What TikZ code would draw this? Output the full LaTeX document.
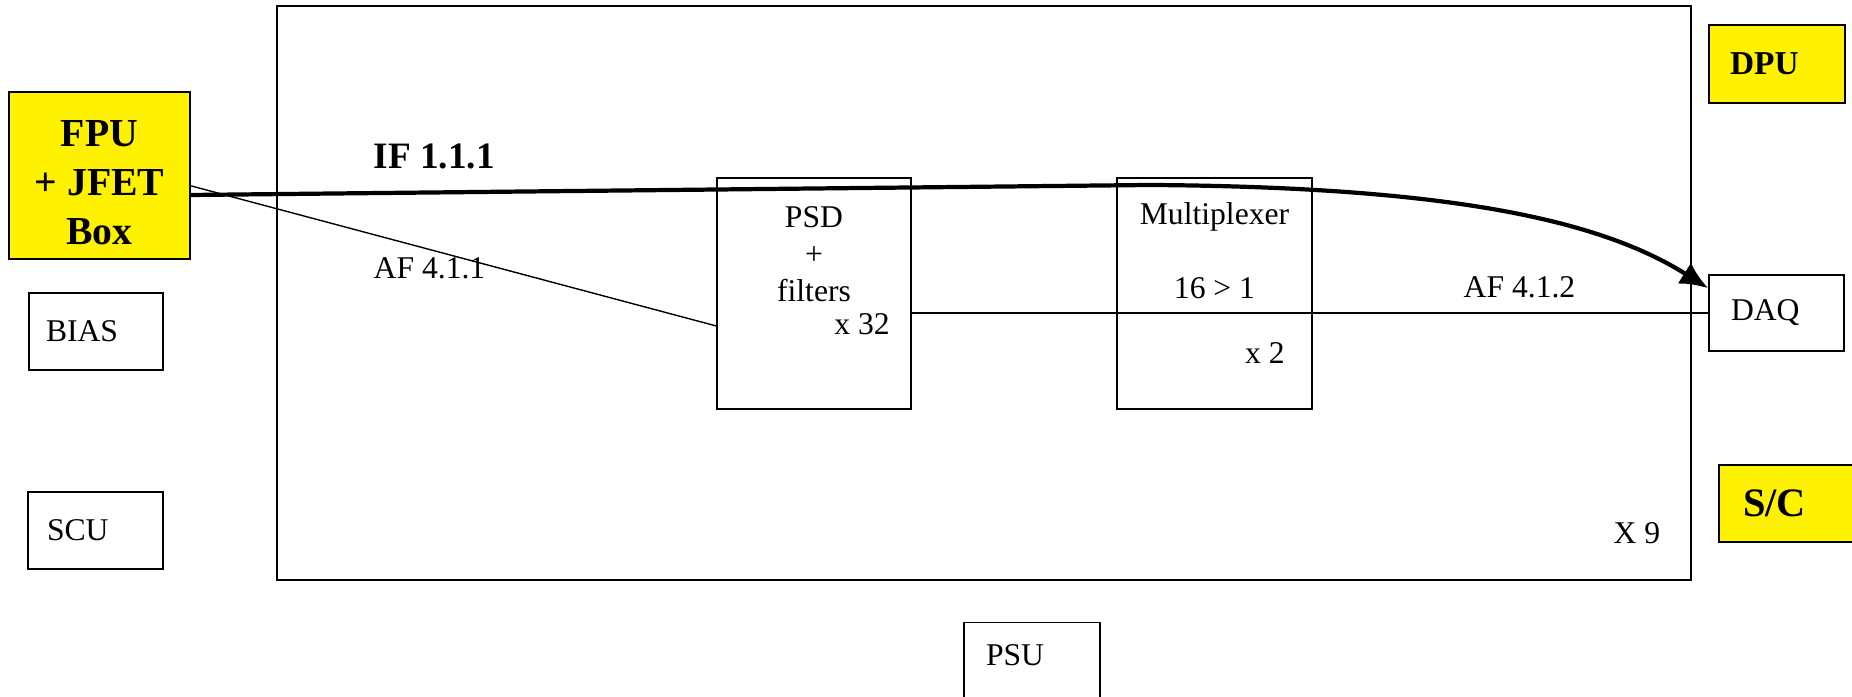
\documentclass[tikz,border=0pt]{standalone}
\usepackage{fontspec}
\setmainfont{Liberation Serif}
\usetikzlibrary{calc}
\usetikzlibrary{positioning}
\usetikzlibrary{arrows.meta}

\begin{document}
\begin{tikzpicture}[cap=round,>=latex,
        font=\fontsize{9}{10.5}\selectfont,
        unit/.style={draw, align=left, minimum height=0.77cm},
        hot/.style={unit, fill=yellow, line width=0.6pt},
        lbl/.style={inner sep=0pt}]

        \useasboundingbox (0,0) rectangle (18.52,-6.97);

        % the frame of one channel (there are nine of them)
        \node[draw, minimum width=14.14cm, minimum height=5.74cm] (frame) at (9.84,-2.93) {};
        \node[lbl, anchor=west] (nine) at (16.13,-5.33) {X 9};

        % units outside the frame
        \node[hot, align=center, line width=0.8pt, minimum width=1.81cm, minimum height=1.67cm,
              font=\fontsize{11.3}{14}\selectfont\bfseries] (fpu) at (0.995,-1.755) {\rule{0pt}{11.4pt}FPU\\+ JFET\\Box};
        \node[unit, text width=1.0cm, inner xsep=0.17cm] (bias) at (0.96,-3.315) {BIAS};
        \node[unit, text width=0.97cm, inner xsep=0.19cm] (scu) at (0.955,-5.305) {SCU};
        \node[unit, text width=0.92cm, inner xsep=0.22cm, inner ysep=0.1cm,
              text height=0.33cm, text depth=0.62cm, anchor=north] (psu) at (10.32,-6.22) {PSU};
        \node[hot, text width=0.94cm, inner xsep=0.21cm, minimum height=0.78cm,
              font=\fontsize{9.5}{11}\selectfont\bfseries] (dpu) at (17.77,-0.64) {DPU};
        \node[unit, text width=0.91cm, inner xsep=0.22cm, minimum height=0.76cm] (daq) at (17.765,-3.13) {DAQ};
        \node[hot, text width=0.97cm, inner xsep=0.24cm,
              font=\fontsize{11.5}{13}\selectfont\bfseries] (sc) at (17.915,-5.035) {S/C};

        % the electronics inside the frame
        \node[draw, minimum width=1.94cm, minimum height=2.31cm] (psd) at (8.14,-2.935) {};
        \node[draw, minimum width=1.95cm, minimum height=2.31cm] (mux) at (12.145,-2.935) {};
        \node[lbl, align=center, below=0.29cm of psd.north] (psdtext) {PSD\\+\\filters};
        \node[lbl] (psdcount) at (8.62,-3.24) {x 32};
        \node[lbl, align=center, below=0.25cm of mux.north] (muxtext) {Multiplexer\\[10.5pt]16 > 1};
        \node[lbl] (muxcount) at (12.65,-3.53) {x 2};

        % the interfaces
        \draw ($(fpu.east)+(0,-0.105)$) -- ($(psd.west)+(0,-0.325)$);
        \draw (psd.east |- daq.west) -- (daq.west);
        \draw[line width=1.2pt, -{Latex[length=8pt,width=7pt]}] ($(fpu.east)+(0,-0.195)$)
                -- (11.5,-1.85) .. controls (14.5,-1.87) and (16.0,-2.2) .. ($(daq.north west)+(0,-0.14)$);

        \node[lbl, anchor=west, font=\fontsize{10.6}{12}\selectfont\bfseries] (iflabel) at (3.73,-1.56) {IF 1.1.1};
        \node[lbl, anchor=west] (aflabel) at (3.73,-2.68) {AF 4.1.1};
        \node[lbl, anchor=west] (aflabeltwo) at (14.63,-2.87) {AF 4.1.2};
\end{tikzpicture}
\end{document}
